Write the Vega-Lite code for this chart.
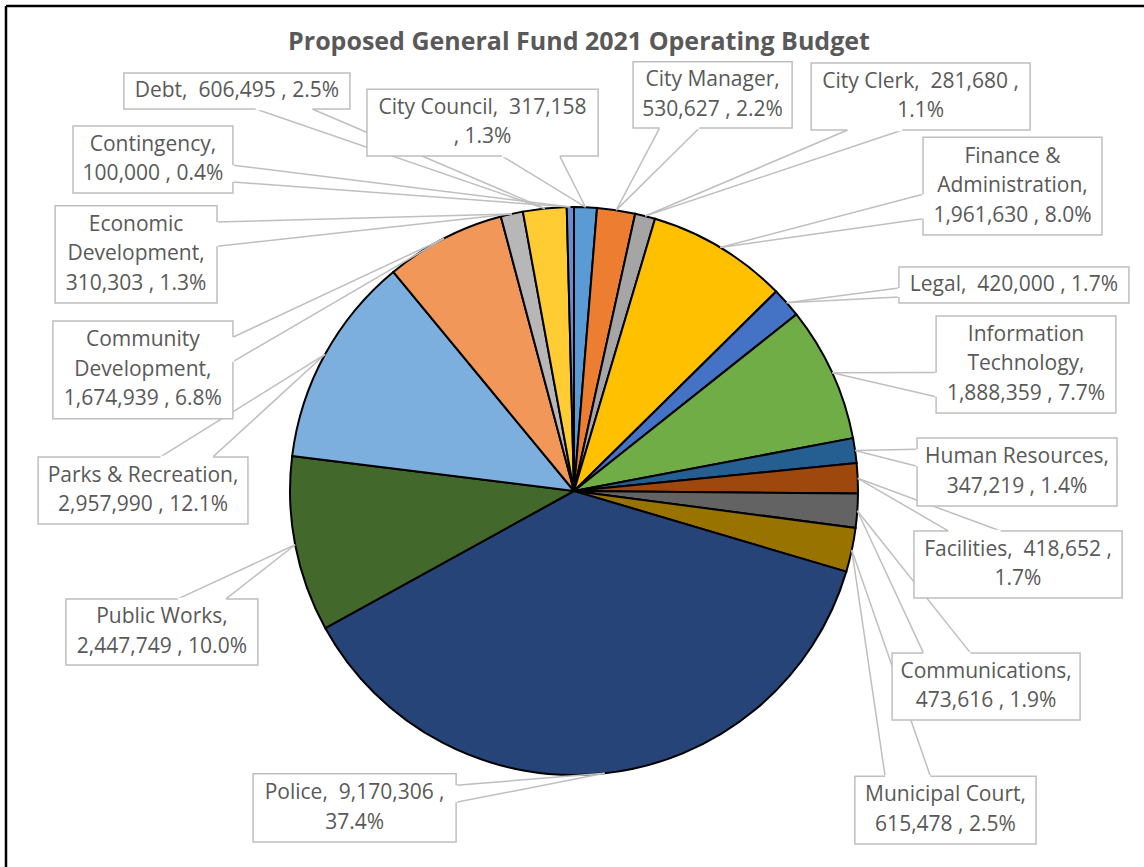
{
  "$schema": "https://vega.github.io/schema/vega-lite/v6.json",
  "width": 1140,
  "height": 752,
  "autosize": "none",
  "padding": {"left": 4, "top": 115, "right": 0, "bottom": 0},
  "background": "white",
  "title": {
    "text": "Proposed General Fund 2021 Operating Budget",
    "anchor": "middle",
    "frame": "group",
    "orient": "top",
    "offset": -70,
    "baseline": "alphabetic",
    "dx": 5,
    "font": "Open Sans",
    "fontSize": 25,
    "fontWeight": "bold",
    "color": "#595959"
  },
  "config": {"view": {"stroke": null}},
  "datasets": {
    "budget": [
      {"i": 1, "dept": "City Council", "amount": 317158},
      {"i": 2, "dept": "City Manager", "amount": 530627},
      {"i": 3, "dept": "City Clerk", "amount": 281680},
      {"i": 4, "dept": "Finance & Administration", "amount": 1961630},
      {"i": 5, "dept": "Legal", "amount": 420000},
      {"i": 6, "dept": "Information Technology", "amount": 1888359},
      {"i": 7, "dept": "Human Resources", "amount": 347219},
      {"i": 8, "dept": "Facilities", "amount": 418652},
      {"i": 9, "dept": "Communications", "amount": 473616},
      {"i": 10, "dept": "Municipal Court", "amount": 615478},
      {"i": 11, "dept": "Police", "amount": 9170306},
      {"i": 12, "dept": "Public Works", "amount": 2447749},
      {"i": 13, "dept": "Parks & Recreation", "amount": 2957990},
      {"i": 14, "dept": "Community Development", "amount": 1674939},
      {"i": 15, "dept": "Economic Development", "amount": 310303},
      {"i": 16, "dept": "Debt", "amount": 606495},
      {"i": 17, "dept": "Contingency", "amount": 100000}
    ],
    "callouts": [
      {"dept": "City Council", "lines": ["City Council,\u00a0 317,158", ", 1.3%"], "bx1": -0.729, "bx2": 0.085, "by1": 1.180, "by2": 1.415},
      {"dept": "City Manager", "lines": ["City Manager,", "530,627 , 2.2%"], "bx1": 0.208, "bx2": 0.768, "by1": 1.278, "by2": 1.511},
      {"dept": "City Clerk", "lines": ["City Clerk,\u00a0 281,680 ,", "1.1%"], "bx1": 0.835, "bx2": 1.606, "by1": 1.271, "by2": 1.507},
      {"dept": "Finance & Administration", "lines": ["Finance &", "Administration,", "1,961,630 , 8.0%"], "bx1": 1.229, "bx2": 1.859, "by1": 0.901, "by2": 1.246},
      {"dept": "Legal", "lines": ["Legal,\u00a0 420,000 , 1.7%"], "bx1": 1.144, "bx2": 1.954, "by1": 0.662, "by2": 0.789},
      {"dept": "Information Technology", "lines": ["Information", "Technology,", "1,888,359 , 7.7%"], "bx1": 1.275, "bx2": 1.908, "by1": 0.275, "by2": 0.616},
      {"dept": "Human Resources", "lines": ["Human Resources,", "347,219 , 1.4%"], "bx1": 1.208, "bx2": 1.912, "by1": -0.053, "by2": 0.187},
      {"dept": "Facilities", "lines": ["Facilities,\u00a0 418,652 ,", "1.7%"], "bx1": 1.197, "bx2": 1.930, "by1": -0.377, "by2": -0.141},
      {"dept": "Communications", "lines": ["Communications,", "473,616 , 1.9%"], "bx1": 1.120, "bx2": 1.782, "by1": -0.806, "by2": -0.570},
      {"dept": "Municipal Court", "lines": ["Municipal Court,", "615,478 , 2.5%"], "bx1": 0.989, "bx2": 1.627, "by1": -1.243, "by2": -1.004},
      {"dept": "Police", "lines": ["Police,\u00a0 9,170,306 ,", "37.4%"], "bx1": -1.130, "bx2": -0.415, "by1": -1.236, "by2": -0.996},
      {"dept": "Public Works", "lines": ["Public Works,", "2,447,749 , 10.0%"], "bx1": -1.789, "bx2": -1.113, "by1": -0.613, "by2": -0.380},
      {"dept": "Parks & Recreation", "lines": ["Parks & Recreation,", "2,957,990 , 12.1%"], "bx1": -1.887, "bx2": -1.148, "by1": -0.116, "by2": 0.120},
      {"dept": "Community Development", "lines": ["Community", "Development,", "1,674,939 , 6.8%"], "bx1": -1.835, "bx2": -1.201, "by1": 0.254, "by2": 0.599},
      {"dept": "Economic Development", "lines": ["Economic", "Development,", "310,303 , 1.3%"], "bx1": -1.827, "bx2": -1.257, "by1": 0.662, "by2": 1.004},
      {"dept": "Debt", "lines": ["Debt,\u00a0 606,495 , 2.5%"], "bx1": -1.585, "bx2": -0.789, "by1": 1.345, "by2": 1.472},
      {"dept": "Contingency", "lines": ["Contingency,", "100,000 , 0.4%"], "bx1": -1.764, "bx2": -1.201, "by1": 1.049, "by2": 1.285}
    ]
  },
  "data": {"name": "budget"},
  "layer": [
    {
      "mark": {"type": "arc", "outerRadius": 284, "stroke": "#000000", "strokeWidth": 2},
      "encoding": {
        "theta": {"field": "amount", "type": "quantitative", "stack": true},
        "order": {"field": "i", "type": "quantitative"},
        "color": {
          "field": "dept",
          "type": "nominal",
          "legend": null,
          "scale": {
            "domain": ["City Council", "City Manager", "City Clerk", "Finance & Administration", "Legal", "Information Technology", "Human Resources", "Facilities", "Communications", "Municipal Court", "Police", "Public Works", "Parks & Recreation", "Community Development", "Economic Development", "Debt", "Contingency"],
            "range": ["#5B9BD5", "#ED7D31", "#A5A5A5", "#FFC000", "#4472C4", "#70AD47", "#255E91", "#9E480E", "#636363", "#997300", "#264478", "#43682B", "#7CAFDD", "#F1975A", "#B7B7B7", "#FFCD33", "#698ED0"]
          }
        }
      }
    },
    {
      "transform": [
        {"joinaggregate": [{"op": "sum", "field": "amount", "as": "total"}]},
        {"window": [{"op": "sum", "field": "amount", "as": "cum"}], "sort": [{"field": "i"}], "frame": [null, 0]},
        {"calculate": "2*PI*(datum.cum - datum.amount/2)/datum.total", "as": "ang"},
        {"calculate": "sin(datum.ang)", "as": "tx"},
        {"calculate": "cos(datum.ang)", "as": "ty"},
        {"lookup": "dept", "from": {"data": {"name": "callouts"}, "key": "dept", "fields": ["lines", "bx1", "bx2", "by1", "by2"]}},
        {"calculate": "(datum.bx1 + datum.bx2)/2", "as": "cx"},
        {"calculate": "(datum.by1 + datum.by2)/2", "as": "cy"},
        {"calculate": "datum.cy + (length(datum.lines) - 1)*29.5/284/2", "as": "texty"},
        {"calculate": "datum.bx2 - datum.bx1", "as": "w"},
        {"calculate": "datum.by2 - datum.by1", "as": "h"},
        {"calculate": "datum.tx - datum.cx", "as": "dxp"},
        {"calculate": "datum.cy - datum.ty", "as": "dyp"},
        {"calculate": "abs(datum.dyp) - abs(datum.dxp)*datum.h/datum.w > 0", "as": "vert"},
        {"calculate": "datum.vert ? datum.bx1 + datum.w*(datum.dxp > 0 ? 7 : 2)/12 : (datum.dxp > 0 ? datum.bx2 : datum.bx1)", "as": "b1x"},
        {"calculate": "datum.vert ? datum.bx1 + datum.w*(datum.dxp > 0 ? 10 : 5)/12 : (datum.dxp > 0 ? datum.bx2 : datum.bx1)", "as": "b2x"},
        {"calculate": "datum.vert ? (datum.dyp > 0 ? datum.by1 : datum.by2) : datum.by2 - datum.h*(datum.dyp > 0 ? 7 : 2)/12", "as": "b1y"},
        {"calculate": "datum.vert ? (datum.dyp > 0 ? datum.by1 : datum.by2) : datum.by2 - datum.h*(datum.dyp > 0 ? 10 : 5)/12", "as": "b2y"}
      ],
      "layer": [
        {
          "mark": {"type": "rule", "color": "#BFBFBF", "strokeWidth": 1.5},
          "encoding": {
            "x": {"field": "b1x", "type": "quantitative", "scale": {"domain": [-2.00704, 2.00704], "nice": false, "zero": false}, "axis": null},
            "y": {"field": "b1y", "type": "quantitative", "scale": {"domain": [-1.32394, 1.32394], "nice": false, "zero": false}, "axis": null},
            "x2": {"field": "tx"},
            "y2": {"field": "ty"}
          }
        },
        {
          "mark": {"type": "rule", "color": "#BFBFBF", "strokeWidth": 1.5},
          "encoding": {
            "x": {"field": "b2x", "type": "quantitative", "axis": null},
            "y": {"field": "b2y", "type": "quantitative", "axis": null},
            "x2": {"field": "tx"},
            "y2": {"field": "ty"}
          }
        },
        {
          "mark": {"type": "rect", "fill": "#FFFFFF", "stroke": "#BFBFBF", "strokeWidth": 1.5},
          "encoding": {
            "x": {"field": "bx1", "type": "quantitative", "axis": null},
            "x2": {"field": "bx2"},
            "y": {"field": "by1", "type": "quantitative", "axis": null},
            "y2": {"field": "by2"}
          }
        },
        {
          "mark": {"type": "rule", "color": "#FFFFFF", "strokeWidth": 2.5},
          "encoding": {
            "x": {"field": "b1x", "type": "quantitative", "axis": null},
            "y": {"field": "b1y", "type": "quantitative", "axis": null},
            "x2": {"field": "b2x"},
            "y2": {"field": "b2y"}
          }
        },
        {
          "mark": {"type": "text", "align": "center", "baseline": "middle", "font": "Open Sans", "fontSize": 21, "lineHeight": 29.5, "color": "#595959"},
          "encoding": {
            "x": {"field": "cx", "type": "quantitative", "axis": null},
            "y": {"field": "texty", "type": "quantitative", "axis": null},
            "text": {"field": "lines", "type": "nominal"}
          }
        }
      ]
    },
    {
      "data": {"values": [{"edge": "left"}]},
      "mark": {"type": "rule", "color": "#000000", "strokeWidth": 2.5},
      "encoding": {
        "x": {"datum": -2, "type": "quantitative", "axis": null},
        "y": {"datum": 1.7077, "type": "quantitative", "axis": null},
        "y2": {"datum": -1.32394}
      }
    },
    {
      "data": {"values": [{"edge": "top"}]},
      "mark": {"type": "rule", "color": "#000000", "strokeWidth": 2.5},
      "encoding": {
        "y": {"datum": 1.7077, "type": "quantitative", "axis": null},
        "x": {"datum": -2, "type": "quantitative", "axis": null},
        "x2": {"datum": 2.00704}
      }
    }
  ]
}
